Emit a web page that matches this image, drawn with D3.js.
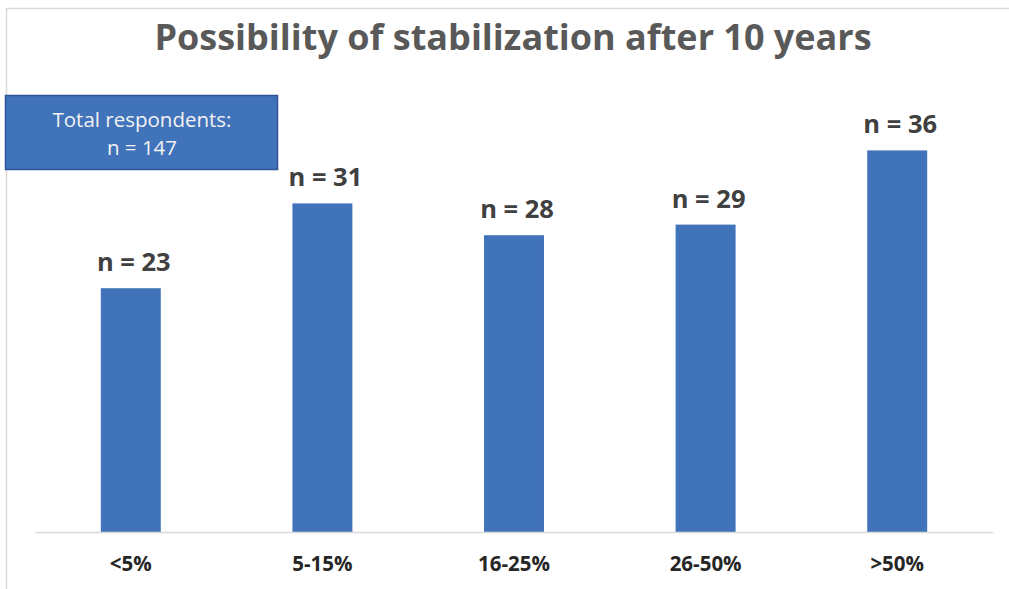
<!DOCTYPE html>
<html>
<head>
<meta charset="utf-8">
<script src="https://cdn.jsdelivr.net/npm/d3@7"></script>
<style>
  body { margin: 0; background: #fff; }
  text { font-family: "Open Sans", sans-serif; }
</style>
</head>
<body>
<div id="chart"></div>
<script>
var categories = ["<5%", "5-15%", "16-25%", "26-50%", ">50%"];
var counts = [23, 31, 28, 29, 36];
var totalLines = ["Total respondents:", "n = 147"];
var titleText = "Possibility of stabilization after 10 years";

var width = 1009,
height = 589;

var svg = d3.select("#chart")
.append("svg")
.attr("width", width)
.attr("height", height);

// chart frame (cropped at right/bottom)
svg.append("rect")
.attr("x", 6.5)
.attr("y", 8.5)
.attr("width", 1100)
.attr("height", 700)
.attr("fill", "#fff")
.attr("stroke", "#d9d9d9")
.attr("stroke-width", 1.5);

var xScale = d3.scaleBand()
.domain(categories)
.range([35, 993])
.paddingInner(0.687)
.paddingOuter(0.3435);

var yScale = d3.scaleLinear()
.domain([0, 40])
.range([532, 108]);

// title
svg.append("text")
.attr("x", 513)
.attr("y", 50)
.attr("text-anchor", "middle")
.attr("font-size", 36)
.attr("font-weight", "bold")
.attr("fill", "#595959")
.text(titleText);

// bars
svg.selectAll(".bar")
.data(counts)
.enter().append("rect")
.attr("class", "bar")
.attr("x", function(d, i) { return xScale(categories[i]); })
.attr("width", xScale.bandwidth())
.attr("y", function(d) { return yScale(d); })
.attr("height", function(d) { return yScale(0) - yScale(d); })
.attr("fill", "#4173ba");

// value labels
svg.selectAll(".lbl")
.data(counts)
.enter().append("text")
.attr("class", "lbl")
.attr("x", function(d, i) { return xScale(categories[i]) + xScale.bandwidth() / 2 + 3; })
.attr("y", function(d) { return yScale(d) - 17; })
.attr("text-anchor", "middle")
.attr("font-size", 25.5)
.attr("font-weight", "bold")
.attr("fill", "#404040")
.text(function(d) { return "n = " + d; });

// x axis
var xAxis = d3.axisBottom(xScale)
.tickSize(0)
.tickPadding(24.5);

var gx = svg.append("g")
.attr("transform", "translate(0," + yScale(0) + ")")
.call(xAxis);

gx.select(".domain")
.attr("stroke", "#d9d9d9")
.attr("stroke-width", 1.5);

gx.selectAll("text")
.attr("font-size", 20.5)
.attr("font-weight", "bold")
.attr("fill", "#262626")
.attr("font-family", "'Open Sans', sans-serif");

// info box
svg.append("rect")
.attr("x", 5.5)
.attr("y", 95.5)
.attr("width", 272)
.attr("height", 74)
.attr("fill", "#4173ba")
.attr("stroke", "#2f5597")
.attr("stroke-width", 1.5);

svg.selectAll(".info")
.data(totalLines)
.enter().append("text")
.attr("class", "info")
.attr("x", 142)
.attr("y", function(d, i) { return 127 + i * 28; })
.attr("text-anchor", "middle")
.attr("font-size", 20.5)
.attr("fill", "#f2f2f2")
.text(function(d) { return d; });
</script>
</body>
</html>
